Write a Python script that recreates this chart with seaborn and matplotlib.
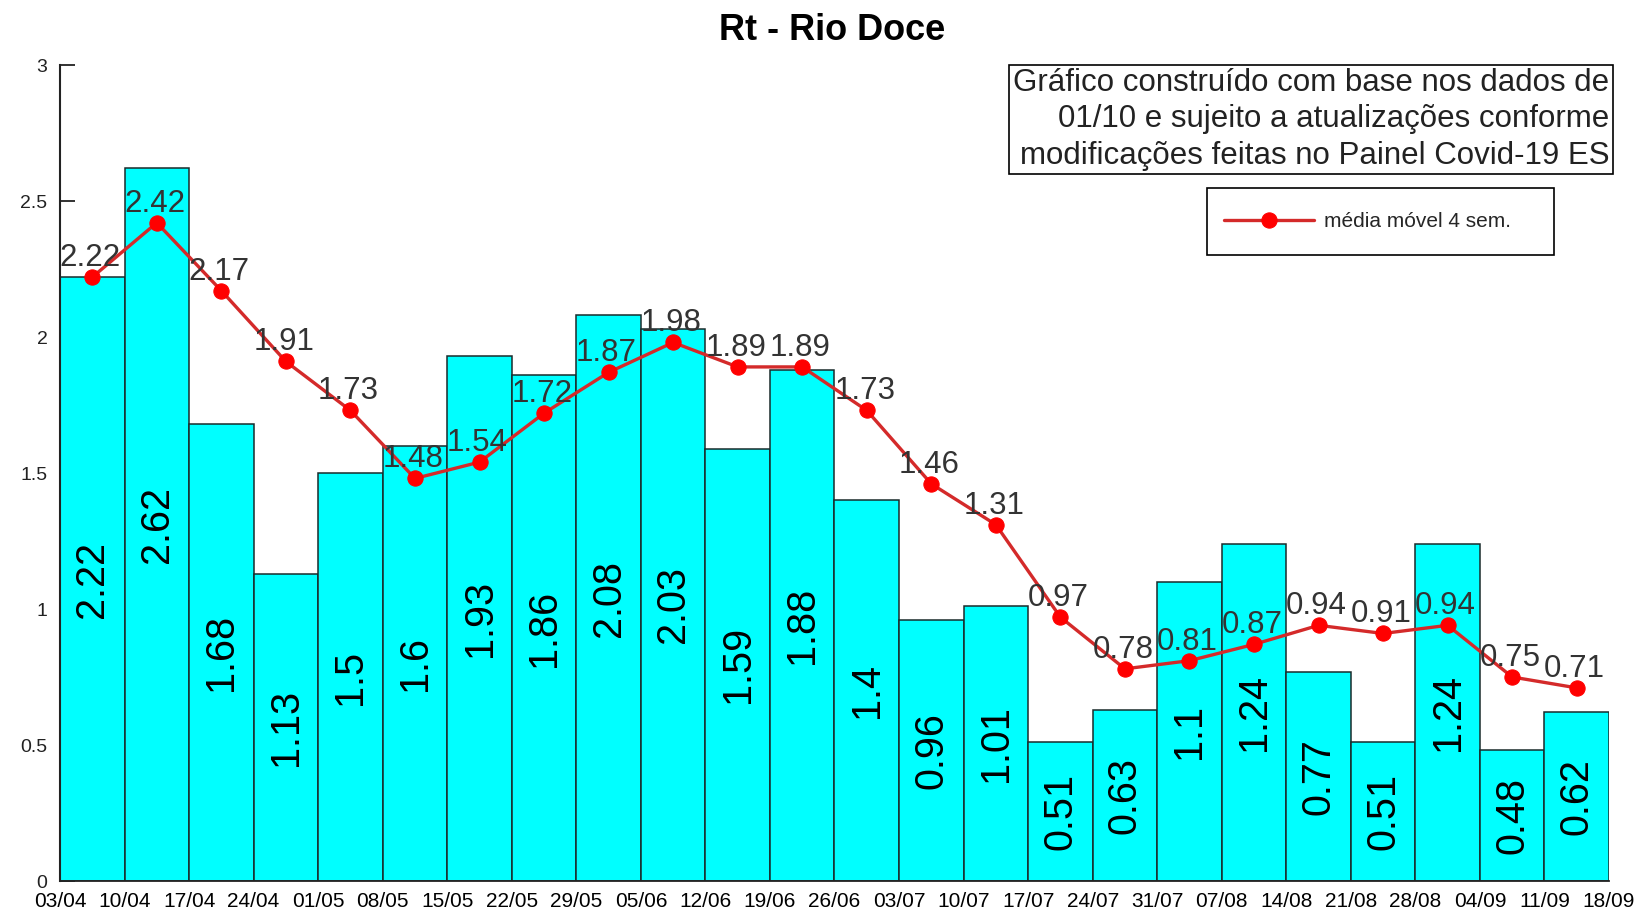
import numpy as np
import pandas as pd
import matplotlib
matplotlib.use("Agg")
import matplotlib.pyplot as plt
from matplotlib.patches import Rectangle
import seaborn as sns

# ---- data ----
week_start = ["03/04", "10/04", "17/04", "24/04", "01/05", "08/05", "15/05", "22/05",
              "29/05", "05/06", "12/06", "19/06", "26/06", "03/07", "10/07", "17/07",
              "24/07", "31/07", "07/08", "14/08", "21/08", "28/08", "04/09", "11/09"]
edge_labels = week_start + ["18/09"]
rt_weekly = [2.22, 2.62, 1.68, 1.13, 1.5, 1.6, 1.93, 1.86, 2.08, 2.03, 1.59, 1.88,
             1.4, 0.96, 1.01, 0.51, 0.63, 1.1, 1.24, 0.77, 0.51, 1.24, 0.48, 0.62]
rt_mm4 = [2.22, 2.42, 2.17, 1.91, 1.73, 1.48, 1.54, 1.72, 1.87, 1.98, 1.89, 1.89,
          1.73, 1.46, 1.31, 0.97, 0.78, 0.81, 0.87, 0.94, 0.91, 0.94, 0.75, 0.71]
y_ticks = [0, 0.5, 1, 1.5, 2, 2.5, 3]
y_tick_labels = ["0", "0.5", "1", "1.5", "2", "2.5", "3"]
title = "Rt - Rio Doce"
note = ("Gráfico construído com base nos dados de\n"
        "01/10 e sujeito a atualizações conforme\n"
        "modificações feitas no Painel Covid-19 ES")
legend_label = "média móvel 4 sem."

sns.set_theme(style="white")
plt.rcParams["font.family"] = ["Liberation Sans", "DejaVu Sans"]

W, H = 1638, 911
fig = plt.figure(figsize=(W / 100, H / 100), dpi=100)
fig.patch.set_facecolor("white")
ax = fig.add_axes([60 / W, (H - 881) / H, (1609 - 60) / W, (881 - 65) / H])

df = pd.DataFrame({"semana": week_start, "rt": rt_weekly, "mm4": rt_mm4})
df["pos"] = df.index

sns.barplot(data=df, x="semana", y="rt", color="#00FFFF", saturation=1, width=1,
            edgecolor="#1a2b2b", linewidth=1.1, ax=ax, zorder=1)

sns.lineplot(data=df, x="pos", y="mm4", color="#D42A2A", linewidth=2.4,
             marker="o", markersize=11, markerfacecolor="#FF0000",
             markeredgecolor="#FF0000", ax=ax, label=legend_label, zorder=3,
             legend=False)

# bar value labels (vertical, centered)
for i, v in enumerate(rt_weekly):
    ax.text(i, v / 2, f"{v:g}", rotation=90, ha="center", va="center",
            fontsize=28.5, color="black", zorder=4)

# moving average labels
for i, v in enumerate(rt_mm4):
    ax.annotate(f"{v:g}", (i, v), xytext=(-1.5, 3), textcoords="offset points",
                ha="center", va="bottom", fontsize=22.5, color="#333333", zorder=5)

ax.set_xlim(-0.5, len(rt_weekly) - 0.5)
ax.set_ylim(0, 3)
ax.set_xticks(np.arange(len(edge_labels)) - 0.5)
ax.set_xticklabels(edge_labels, family=["Liberation Sans Narrow", "Liberation Sans"],
                   fontsize=15, color="black")
ax.set_yticks(y_ticks)
ax.set_yticklabels(y_tick_labels, fontsize=14, color="#222222")
ax.tick_params(axis="x", length=0, pad=8)
ax.tick_params(axis="y", direction="in", length=11, width=1.3, color="#222222",
               pad=9, left=True)
ax.set_xlabel("")
ax.set_ylabel("")
for s in ["top", "right"]:
    ax.spines[s].set_visible(False)
ax.spines["left"].set_color("#222222")
ax.spines["left"].set_linewidth(1.5)
ax.spines["bottom"].set_color("#222222")
ax.spines["bottom"].set_linewidth(1.3)
ax.grid(False)

fig.text(832 / W, 1 - 31 / H, title, ha="center", va="center",
         fontsize=26, fontweight="bold", color="black")

fig.text(1609 / W, 1 - 119.5 / H, note, ha="right", va="center",
         multialignment="right", fontsize=22.5, color="#222222", linespacing=1.27,
         bbox=dict(boxstyle="square,pad=0.12", facecolor="white",
                   edgecolor="black", linewidth=1.2))

# legend frame + legend
fig.patches.append(Rectangle((1207 / W, 1 - 255 / H), (1554 - 1207) / W, (255 - 188) / H,
                             transform=fig.transFigure, facecolor="white",
                             edgecolor="black", linewidth=1.2, zorder=0))
handles, labels = ax.get_legend_handles_labels()
leg = fig.legend(handles, labels, loc="center left",
                 bbox_to_anchor=(1224 / W, 1 - 221.5 / H),
                 frameon=False, fontsize=15, handlelength=4.3, handletextpad=0.5,
                 borderpad=0, borderaxespad=0)

fig.savefig("out.png", dpi=100, facecolor="white")
